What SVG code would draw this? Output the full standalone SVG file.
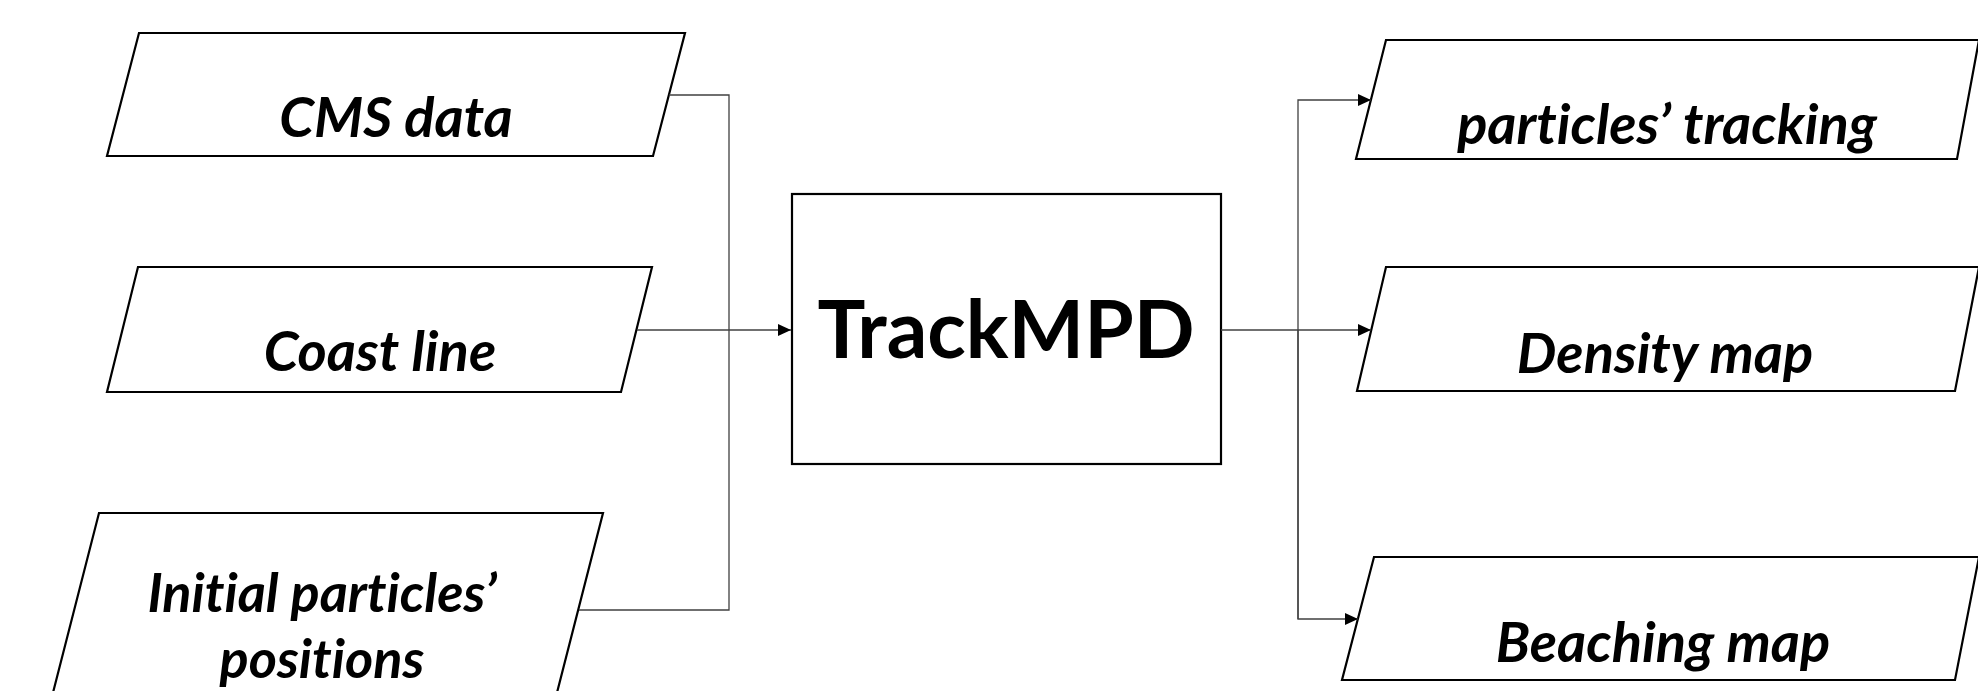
<svg xmlns="http://www.w3.org/2000/svg" width="1978" height="691" viewBox="0 0 1978 691">
  <style>
    .shape { fill: #ffffff; stroke: #000000; stroke-width: 2.2; stroke-linejoin: miter; }
    .label { font-family: Lato, "Open Sans", "Liberation Sans", sans-serif; font-weight: bold; font-style: italic; font-size: 56px; fill: #000000; text-anchor: middle; font-variant-ligatures: none; }
    .label.tight { font-size: 54px; }
    .title { font-family: Lato, "Open Sans", "Liberation Sans", sans-serif; font-weight: bold; font-size: 80px; fill: #000000; text-anchor: middle; }
    .wire { fill: none; stroke: #404040; stroke-width: 1.3; }
  </style>
  <defs>
    <marker id="arrow" markerUnits="userSpaceOnUse" markerWidth="14" markerHeight="12" refX="13" refY="6" orient="auto">
      <path d="M0,0 L13,6 L0,12 Z" fill="#000000"/>
    </marker>
  </defs>
  <rect width="1978" height="691" fill="#ffffff"/>

  <!-- inputs -->
  <g id="cms-data">
    <polygon class="shape" points="139,33 685,33 653,156 107,156"/>
    <text class="label" x="396" y="137">CMS data</text>
  </g>
  <g id="coast-line">
    <polygon class="shape" points="138,267 652,267 621,392 107,392"/>
    <text class="label" x="380" y="371">Coast line</text>
  </g>
  <g id="initial-positions">
    <polygon class="shape" points="99,513 603,513 550,720 46,720"/>
    <text class="label tight" x="322" y="612">Initial particles’</text>
    <text class="label tight" x="322" y="678">positions</text>
  </g>

  <!-- model -->
  <g id="trackmpd">
    <rect class="shape" x="792" y="194" width="429" height="270"/>
    <text class="title" x="1006" y="358">TrackMPD</text>
  </g>

  <!-- outputs -->
  <g id="particles-tracking">
    <polygon class="shape" points="1386,40 1979,40 1957,159 1356,159"/>
    <text class="label" x="1667" y="144">particles’ tracking</text>
  </g>
  <g id="density-map">
    <polygon class="shape" points="1386,267 1979,267 1955,391 1357,391"/>
    <text class="label" x="1665" y="373">Density map</text>
  </g>
  <g id="beaching-map">
    <polygon class="shape" points="1374,557 1979,557 1955,680 1342,680"/>
    <text class="label" x="1663" y="662">Beaching map</text>
  </g>

  <!-- connectors -->
  <g id="connectors">
    <polyline class="wire" points="669,95 729,95 729,610 579,610"/>
    <line class="wire" x1="637" y1="330" x2="791" y2="330" marker-end="url(#arrow)"/>
    <line class="wire" x1="1221" y1="330" x2="1371" y2="330" marker-end="url(#arrow)"/>
    <polyline class="wire" points="1298,619 1298,100 1371,100" marker-end="url(#arrow)"/>
    <polyline class="wire" points="1298,330 1298,619 1358,619" marker-end="url(#arrow)"/>
  </g>
</svg>
